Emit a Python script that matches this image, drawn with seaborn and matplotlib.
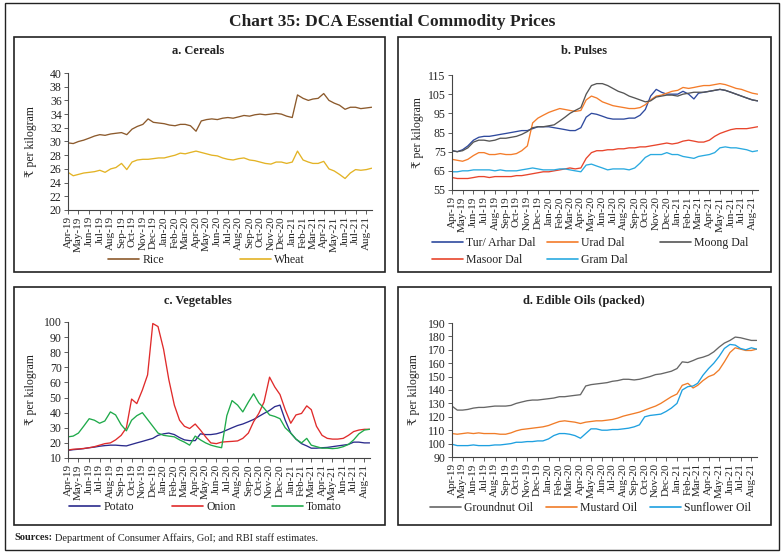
import matplotlib
matplotlib.use("Agg")
import numpy as np
import pandas as pd
import matplotlib.pyplot as plt
import matplotlib.dates as mdates
from matplotlib.lines import Line2D
from matplotlib.patches import Rectangle
import seaborn as sns

# ---------------- data (semi-monthly readings, Rs per kg) ----------------
month_starts = pd.date_range("2019-04-01", "2021-08-01", freq="MS")
dates = []
for m in month_starts:
    dates.append(m)
    dates.append(m + pd.Timedelta(days=15))

rice = [29.8, 29.7, 30.0, 30.2, 30.5, 30.8, 31.0, 30.9, 31.1, 31.2,
        31.3, 31.0, 31.8, 32.2, 32.5, 33.3, 32.8, 32.7, 32.6, 32.4,
        32.3, 32.5, 32.5, 32.3, 31.5, 33.0, 33.2, 33.3, 33.2, 33.4,
        33.5, 33.4, 33.6, 33.8, 33.7, 33.9, 34.0, 33.9, 34.0, 34.1,
        34.0, 33.7, 33.5, 36.8, 36.3, 36.0, 36.2, 36.3, 37.0, 36.0,
        35.6, 35.3, 34.7, 35.0, 35.0, 34.8, 34.9, 35.0]
wheat = [25.5, 25.0, 25.2, 25.4, 25.5, 25.6, 25.8, 25.5, 26.0, 26.2,
         26.8, 25.9, 27.0, 27.3, 27.4, 27.4, 27.5, 27.6, 27.6, 27.8,
         28.0, 28.3, 28.2, 28.4, 28.6, 28.4, 28.2, 28.0, 27.9, 27.6,
         27.4, 27.3, 27.5, 27.6, 27.3, 27.2, 27.0, 26.8, 26.7, 27.0,
         27.0, 26.8, 27.0, 28.6, 27.3, 27.0, 26.8, 26.8, 27.1, 26.0,
         25.7, 25.2, 24.6, 25.4, 25.9, 25.8, 25.9, 26.1]

tur = [75.5, 75.0, 76.0, 78.0, 81.0, 82.5, 83.0, 83.0, 83.5, 84.0,
       84.5, 85.0, 85.5, 86.0, 86.0, 87.0, 88.0, 88.0, 88.0, 87.5,
       87.0, 86.5, 86.0, 86.0, 87.5, 93.0, 95.0, 94.5, 93.5, 92.5,
       92.0, 92.0, 92.0, 92.5, 92.5, 94.0, 97.0, 104.0, 107.5, 106.0,
       105.0, 105.0, 105.0, 106.5, 105.0, 102.5, 105.5, 106.0, 106.5, 107.0,
       107.5, 107.0, 106.0, 105.0, 104.0, 103.0, 102.0, 101.5]
urad = [71.0, 70.5, 70.0, 71.0, 73.0, 74.5, 74.5, 73.5, 73.5, 74.0,
        73.5, 73.5, 74.0, 75.5, 78.0, 90.0, 92.5, 94.0, 95.5, 96.5,
        97.5, 97.0, 96.5, 96.0, 96.5, 102.0, 104.0, 103.0, 101.0, 100.0,
        99.0, 98.5, 98.0, 97.5, 97.5, 98.0, 99.5, 102.0, 104.0, 104.5,
        105.5, 106.5, 107.0, 108.5, 108.0, 108.5, 109.0, 109.5, 109.5, 110.0,
        110.5, 110.0, 109.0, 108.0, 107.5, 106.5, 105.5, 105.0]
moong = [75.5, 75.0, 75.5, 77.0, 80.0, 81.0, 81.0, 80.5, 81.0, 82.0,
         82.0, 82.5, 83.0, 84.0, 85.5, 87.5, 88.0, 88.0, 88.5, 89.0,
         91.0, 93.0, 95.0, 96.5, 98.0, 105.0, 109.5, 110.5, 110.5, 109.5,
         108.0, 106.5, 105.5, 104.0, 103.0, 102.0, 101.0, 101.5, 103.5, 104.0,
         104.5, 104.5, 104.0, 105.0, 105.5, 106.0, 106.0, 106.0, 106.5, 107.0,
         107.5, 107.0, 106.0, 105.0, 104.0, 103.0, 102.0, 101.5]
masoor = [61.5, 61.0, 61.0, 61.0, 61.5, 62.0, 62.0, 61.5, 62.0, 62.0,
          62.0, 62.0, 62.5, 62.5, 63.0, 63.5, 64.0, 64.5, 64.5, 65.0,
          65.5, 66.0, 66.5, 66.0, 66.5, 71.5, 74.5, 75.5, 75.5, 76.0,
          76.0, 76.5, 76.5, 77.0, 77.0, 77.5, 77.5, 78.0, 78.5, 79.0,
          79.5, 79.0, 79.5, 80.5, 81.0, 80.5, 80.0, 80.0, 81.0, 83.0,
          84.5, 85.5, 86.5, 87.0, 87.0, 87.0, 87.5, 88.0]
gram = [64.5, 64.5, 65.0, 65.0, 65.5, 65.5, 65.5, 65.5, 65.0, 65.5,
        65.0, 65.0, 65.0, 65.5, 66.0, 66.5, 66.0, 65.5, 65.5, 65.5,
        66.0, 66.0, 65.5, 65.0, 64.5, 68.0, 68.5, 67.5, 66.5, 65.5,
        66.0, 66.0, 66.0, 65.5, 66.5, 69.0, 72.0, 73.5, 73.5, 73.5,
        74.5, 73.5, 73.5, 72.5, 72.0, 71.5, 72.5, 73.0, 73.5, 74.5,
        77.0, 77.5, 77.0, 77.0, 76.5, 76.0, 75.0, 75.5]

potato = [15.0, 15.5, 15.8, 16.2, 16.8, 17.2, 17.8, 18.2, 18.5, 18.5,
          18.2, 18.0, 19.0, 20.0, 21.0, 22.0, 23.0, 25.0, 26.0, 26.5,
          25.5, 23.5, 22.0, 21.5, 21.5, 26.0, 25.5, 25.5, 26.0, 27.0,
          28.5, 30.0, 31.5, 32.5, 34.0, 35.5, 37.5, 39.5, 41.5, 44.0,
          45.0, 35.0, 26.5, 22.5, 19.5, 18.0, 16.5, 16.5, 16.8, 17.0,
          17.5, 18.0, 18.5, 19.0, 20.5, 20.5, 20.0, 20.0]
onion = [15.3, 15.8, 16.0, 16.3, 16.8, 17.5, 18.5, 19.5, 20.0, 22.0,
         25.0, 30.0, 49.0, 46.0, 55.0, 65.0, 99.0, 97.0, 82.0, 62.0,
         45.0, 35.0, 31.0, 29.5, 32.5, 28.5, 24.0, 20.0, 19.5, 20.5,
         20.8, 21.0, 21.3, 23.0, 26.5, 34.0, 39.5, 47.0, 63.5, 57.0,
         52.0, 42.0, 33.0, 38.5, 39.5, 44.5, 42.0, 31.0, 25.0, 23.0,
         22.5, 22.5, 23.0, 25.0, 27.5, 28.5, 29.0, 29.0]
tomato = [24.0, 24.5, 26.5, 31.0, 36.0, 35.0, 33.0, 34.5, 40.5, 38.5,
          32.0, 28.0, 35.0, 38.0, 40.0, 35.5, 31.0, 26.5, 25.0, 24.5,
          24.0, 22.0, 20.5, 18.5, 24.5, 22.0, 20.0, 18.5, 17.5, 16.8,
          38.0, 48.0, 45.0, 40.5, 47.0, 52.5, 46.5, 43.0, 38.5, 37.5,
          36.0, 30.0, 26.5, 22.5, 20.0, 23.0, 18.5, 17.5, 16.5, 16.5,
          16.2, 16.5, 17.5, 19.0, 22.0, 26.0, 28.5, 29.0]

groundnut = [128.0, 125.0, 125.0, 125.5, 126.5, 127.0, 127.0, 127.5, 128.0, 128.0,
             128.0, 128.5, 130.0, 131.0, 132.0, 132.5, 132.5, 133.0, 133.5, 134.0,
             135.0, 135.0, 135.5, 136.0, 136.5, 143.0, 144.0, 144.5, 145.0, 145.5,
             146.5, 147.0, 148.0, 148.0, 147.5, 148.0, 149.0, 150.0, 151.5, 152.0,
             153.0, 154.0, 156.0, 161.0, 160.5, 162.0, 163.5, 164.5, 166.0, 168.5,
             172.0, 175.0, 177.0, 179.5, 179.0, 178.0, 177.0, 177.0]
mustard = [107.5, 107.0, 107.5, 108.0, 107.5, 108.0, 107.5, 107.5, 107.5, 107.0,
           107.0, 108.0, 109.5, 110.5, 111.0, 111.5, 112.0, 112.5, 113.5, 115.0,
           116.5, 117.0, 116.5, 116.0, 115.0, 116.0, 116.5, 117.0, 117.0, 117.5,
           118.0, 119.0, 120.5, 121.5, 122.5, 123.5, 125.0, 126.5, 128.0, 130.0,
           132.5, 135.0, 137.0, 143.5, 145.0, 141.5, 143.5, 147.0, 150.0, 151.5,
           155.0, 161.0, 168.0, 171.5, 170.5, 169.5, 169.5, 170.5]
sunflower = [99.5, 98.5, 98.5, 98.5, 99.0, 98.5, 98.5, 98.5, 99.0, 99.0,
             99.5, 100.0, 101.0, 101.0, 101.5, 101.5, 102.0, 102.0, 103.5, 106.0,
             107.5, 107.5, 107.0, 106.0, 104.0, 107.5, 111.0, 111.0, 110.0, 110.0,
             110.5, 110.5, 111.0, 111.5, 112.5, 114.0, 120.0, 121.0, 121.5, 122.0,
             124.0, 126.5, 130.0, 140.0, 142.5, 143.0, 145.0, 151.0, 156.0, 160.0,
             165.0, 171.0, 174.0, 173.5, 171.0, 170.0, 171.5, 170.5]

# ---------------- styling ----------------
sns.set_style("white")
plt.rcParams["font.family"] = ["Liberation Serif", "DejaVu Serif", "DejaVu Sans"]

W, H = 784, 555
fig = plt.figure(figsize=(W / 100, H / 100), dpi=100)

def fx(x):
    return x / W

def fy(y):
    return 1 - y / H

def frame(x0, y0, x1, y1, lw=1.0):
    fig.add_artist(Rectangle((fx(x0), fy(y1)), fx(x1) - fx(x0), fy(y0) - fy(y1),
                             transform=fig.transFigure, fill=False,
                             edgecolor="#222222", linewidth=lw))

# outer border
frame(5, 3, 779, 550, lw=1.0)

fig.text(fx(392), fy(22), "Chart 35: DCA Essential Commodity Prices",
         ha="center", va="center", fontsize=12.5, fontweight="bold", color="#222222")

panels = [
    dict(box=(14, 37, 385, 272), ax=(68, 73, 372, 210), title="a. Cereals",
         tx=198, ty=51, ylim=(20, 40), yticks=np.arange(20, 41, 2), ylabx=37,
         series=[("Rice", rice, "#8C5A2C", 108, 260),
                 ("Wheat", wheat, "#E3B325", 240, 260)]),
    dict(box=(398, 37, 771, 272), ax=(452, 75, 758, 190), title="b. Pulses",
         tx=584, ty=51, ylim=(55, 115), yticks=np.arange(55, 116, 10), ylabx=424,
         series=[("Tur/ Arhar Dal", tur, "#2F4A9E", 432, 243),
                 ("Urad Dal", urad, "#F47C2A", 547, 243),
                 ("Moong Dal", moong, "#555555", 660, 243),
                 ("Masoor Dal", masoor, "#E8452C", 432, 260),
                 ("Gram Dal", gram, "#2AAAE0", 547, 260)]),
    dict(box=(14, 287, 385, 525), ax=(68, 322, 370, 458), title="c. Vegetables",
         tx=198, ty=301, ylim=(10, 100), yticks=np.arange(10, 101, 10), ylabx=37,
         series=[("Potato", potato, "#2B2B8C", 69, 507),
                 ("Onion", onion, "#E02B2B", 172, 507),
                 ("Tomato", tomato, "#1FAA4A", 272, 507)]),
    dict(box=(398, 287, 771, 525), ax=(452, 323, 757, 457), title="d. Edible Oils (packed)",
         tx=584, ty=301, ylim=(90, 190), yticks=np.arange(90, 191, 10), ylabx=420,
         series=[("Groundnut Oil", groundnut, "#666666", 430, 508),
                 ("Mustard Oil", mustard, "#F07C28", 546, 508),
                 ("Sunflower Oil", sunflower, "#1EA0E0", 650, 508)]),
]

x_start = pd.Timestamp("2019-04-01")
x_end = pd.Timestamp("2021-08-17")

for p in panels:
    frame(*p["box"], lw=1.2)
    x0, y0, x1, y1 = p["ax"]
    ax = fig.add_axes([fx(x0), fy(y1), fx(x1) - fx(x0), fy(y0) - fy(y1)])
    names = [s[0] for s in p["series"]]
    df = pd.concat([pd.DataFrame({"date": dates, "price": s[1], "series": s[0]})
                    for s in p["series"]], ignore_index=True)
    pal = {s[0]: s[2] for s in p["series"]}
    sns.lineplot(data=df, x="date", y="price", hue="series", hue_order=names,
                 palette=pal, linewidth=0.95, legend=False, ax=ax)
    ax.set_xlim(x_start, x_end)
    ax.set_ylim(*p["ylim"])
    ax.set_yticks(p["yticks"])
    ax.xaxis.set_major_locator(mdates.MonthLocator(bymonthday=1))
    ax.xaxis.set_major_formatter(mdates.DateFormatter("%b-%y"))
    ax.tick_params(axis="x", labelrotation=90, labelsize=8, length=3, width=0.6,
                   color="#444444", pad=1.5, direction="out", bottom=True)
    ax.tick_params(axis="y", labelsize=8.5, length=3, width=0.6, color="#444444",
                   pad=1.5, direction="out", left=True)
    for lab in ax.get_xticklabels() + ax.get_yticklabels():
        lab.set_color("#222222")
    for side in ("top", "right"):
        ax.spines[side].set_visible(False)
    for side in ("left", "bottom"):
        ax.spines[side].set_color("#444444")
        ax.spines[side].set_linewidth(0.8)
    ax.set_xlabel("")
    ax.set_ylabel("₹ per kilogram", fontsize=8.5, color="#222222")
    ax.yaxis.set_label_coords((p["ylabx"] - x0) / (x1 - x0), 0.5)
    ax.set_facecolor("white")
    fig.text(fx(p["tx"]), fy(p["ty"]), p["title"], ha="center", va="center",
             fontsize=9, fontweight="bold", color="#222222")
    for name, _, col, lx, ly in p["series"]:
        fig.legend(handles=[Line2D([0], [0], color=col, lw=1.2)], labels=[name],
                   loc="center left", bbox_to_anchor=(fx(lx), fy(ly)),
                   frameon=False, fontsize=8.5, handlelength=2.6, handletextpad=0.3,
                   borderpad=0, borderaxespad=0, labelcolor="#222222")

# sources line
fig.canvas.draw()
t1 = fig.text(fx(14), fy(538), "Sources:", ha="left", va="center",
              fontsize=7.5, fontweight="bold", color="#222222")
fig.canvas.draw()
bb = t1.get_window_extent(renderer=fig.canvas.get_renderer())
fig.text(bb.x1 / W + fx(3), fy(538), "Department of Consumer Affairs, GoI; and RBI staff estimates.",
         ha="left", va="center", fontsize=7.5, color="#222222")

fig.savefig("out.png", dpi=100, facecolor="white")
